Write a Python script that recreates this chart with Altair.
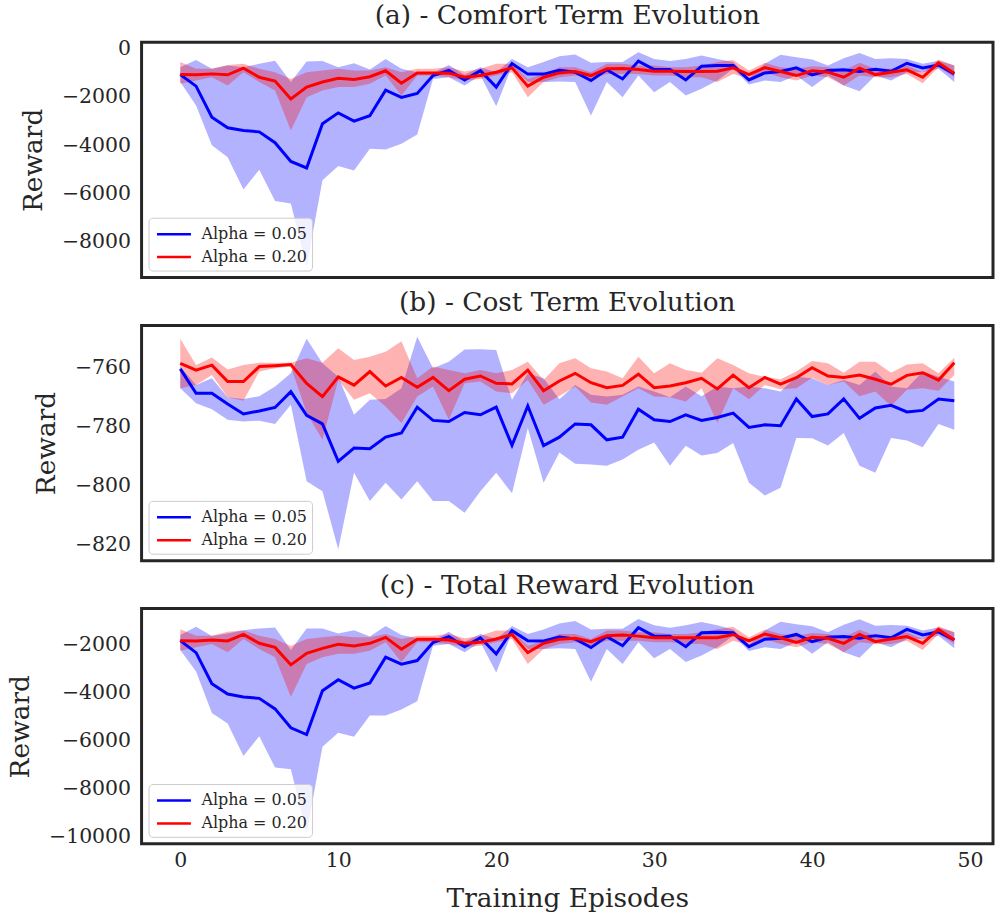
import altair as alt
import pandas as pd

episodes = list(range(50))
series_names = ["Alpha = 0.05", "Alpha = 0.20"]
series_colors = ["#0000ff", "#ff0000"]

# (a) Comfort term
comfort_05_mean = [-1070,-1550,-2840,-3280,-3390,-3450,-3900,-4680,-4950,-3110,-2660,-3000,-2780,-1720,-2020,-1850,-1110,-890,-1290,-910,-1590,-610,-1050,-1050,-890,-970,-1320,-870,-1250,-510,-860,-860,-1290,-720,-690,-690,-1290,-1000,-940,-790,-1080,-900,-870,-940,-850,-930,-600,-790,-670,-1040]
comfort_05_hi = [-760,-460,-830,-690,-760,-620,-490,-1380,-530,-510,-760,-600,-860,-420,-830,-970,-1000,-670,-1080,-760,-970,-420,-760,-550,-310,-240,-580,-550,-550,-140,-420,-510,-420,-280,-420,-550,-1220,-620,-250,-350,-440,-690,-390,-170,-420,-390,-420,-620,-490,-690]
comfort_05_lo = [-1380,-2350,-4010,-4500,-5840,-5020,-6320,-6430,-9050,-5460,-4870,-5050,-4150,-4180,-3940,-3560,-1250,-1180,-1520,-1110,-2380,-720,-1380,-1380,-1360,-1380,-2770,-1380,-2010,-1110,-1800,-1380,-1940,-1660,-1320,-830,-1480,-1320,-1380,-1110,-1590,-1110,-1520,-1760,-1110,-1320,-970,-970,-830,-1380]
comfort_20_mean = [-1070,-1080,-1040,-1080,-800,-1180,-1340,-2080,-1590,-1380,-1220,-1270,-1160,-910,-1430,-1000,-1000,-1010,-1180,-1110,-970,-790,-1550,-1180,-1000,-940,-1110,-830,-820,-860,-930,-930,-940,-940,-930,-790,-1070,-780,-940,-1110,-910,-970,-1180,-800,-1070,-970,-870,-1180,-580,-1010]
comfort_20_hi = [-550,-830,-830,-670,-620,-830,-970,-1250,-970,-900,-830,-900,-900,-760,-970,-830,-830,-760,-940,-830,-620,-620,-1250,-1040,-760,-760,-970,-620,-620,-690,-690,-760,-760,-690,-550,-460,-900,-580,-760,-830,-720,-760,-900,-580,-830,-830,-690,-970,-440,-690]
comfort_20_lo = [-1450,-1320,-1180,-1520,-970,-1380,-1730,-3390,-2010,-1730,-1590,-1590,-1450,-1110,-1940,-1110,-1110,-1180,-1320,-1250,-1110,-970,-2010,-1380,-1180,-1110,-1250,-1040,-1040,-1040,-1110,-1110,-1180,-1180,-1380,-1040,-1220,-970,-1180,-1320,-1110,-1180,-1520,-1110,-1180,-1180,-1040,-1430,-760,-1180]

# (b) Cost term
cost_05_mean = [-760.4,-768.7,-768.7,-772.3,-775.7,-774.7,-773.5,-768.1,-776.2,-779.1,-791.8,-787.3,-787.5,-783.6,-782.2,-773.4,-777.9,-778.3,-775.2,-776.0,-773.4,-786.4,-773.0,-786.5,-783.6,-779.1,-779.4,-784.5,-783.6,-774.1,-777.7,-778.3,-776.0,-777.9,-776.9,-775.4,-780.3,-779.4,-779.7,-770.6,-776.6,-775.7,-770.6,-777.2,-773.7,-772.8,-775.0,-774.5,-770.6,-771.2]
cost_05_hi = [-759.6,-765.9,-763.6,-770.0,-770.6,-769.7,-766.4,-761.9,-750.1,-758.5,-763.1,-776.0,-770.9,-770.6,-767.0,-749.5,-760.2,-758.0,-753.8,-753.7,-754.0,-770.9,-761.9,-763.6,-770.7,-765.9,-769.2,-769.8,-769.2,-766.4,-768.1,-770.0,-766.4,-769.7,-766.4,-767.0,-766.4,-767.0,-768.1,-763.1,-763.6,-765.9,-764.2,-765.9,-761.3,-766.4,-767.0,-761.3,-763.1,-764.7]
cost_05_lo = [-767.0,-772.1,-774.1,-777.7,-778.3,-778.0,-779.1,-772.6,-798.6,-802.0,-821.7,-795.7,-805.3,-799.1,-804.8,-798.6,-805.3,-805.3,-809.3,-802.0,-795.7,-802.7,-780.5,-799.1,-788.8,-792.6,-792.9,-793.3,-791.2,-787.9,-785.4,-793.3,-786.5,-789.8,-789.0,-785.6,-799.1,-803.4,-800.8,-783.9,-784.0,-786.4,-782.2,-793.3,-795.7,-783.9,-784.7,-787.0,-779.1,-781.1]
cost_20_mean = [-758.5,-760.8,-759.1,-764.7,-764.7,-759.6,-759.3,-758.9,-765.3,-769.8,-763.1,-765.9,-761.3,-766.2,-763.3,-766.6,-763.3,-767.8,-763.9,-762.8,-765.3,-765.5,-760.8,-767.8,-764.5,-761.9,-765.1,-766.8,-766.0,-762.2,-766.8,-766.2,-765.1,-763.6,-767.2,-762.5,-766.8,-763.3,-765.6,-763.4,-760.0,-762.8,-763.3,-762.5,-763.9,-765.6,-762.6,-761.7,-764.2,-758.3]
cost_20_hi = [-750.1,-759.1,-756.5,-760.6,-759.1,-758.3,-758.3,-758.3,-756.8,-758.3,-753.4,-757.4,-756.3,-754.6,-751.0,-763.6,-759.6,-760.8,-761.9,-760.8,-761.9,-760.8,-758.0,-764.2,-758.5,-756.8,-760.2,-761.3,-763.6,-756.3,-761.9,-758.5,-760.8,-761.7,-756.8,-759.1,-761.9,-763.1,-763.9,-761.3,-757.7,-758.5,-761.7,-758.0,-758.0,-761.7,-758.9,-758.5,-761.9,-756.6]
cost_20_lo = [-767.0,-765.9,-762.5,-770.0,-771.2,-761.3,-760.2,-759.6,-775.4,-784.5,-764.2,-770.9,-768.7,-773.2,-778.8,-769.8,-766.4,-777.7,-765.3,-764.7,-768.1,-768.7,-764.2,-772.6,-769.6,-766.4,-771.8,-772.6,-769.8,-767.0,-769.8,-770.0,-771.5,-767.0,-778.8,-767.0,-770.7,-765.9,-767.3,-767.0,-763.4,-765.9,-764.7,-769.7,-768.1,-773.0,-767.5,-767.0,-767.8,-762.5]

# (c) Total reward
total_05_mean = [-1820,-2320,-3620,-4050,-4170,-4230,-4670,-5460,-5740,-3910,-3450,-3800,-3590,-2510,-2800,-2650,-1900,-1650,-2070,-1700,-2370,-1400,-1820,-1830,-1670,-1750,-2110,-1650,-2030,-1280,-1630,-1630,-2070,-1490,-1470,-1490,-2070,-1760,-1720,-1560,-1860,-1680,-1650,-1720,-1610,-1700,-1350,-1580,-1450,-1790]
total_05_hi = [-1580,-1240,-1630,-1520,-1380,-1310,-1270,-2210,-1310,-1310,-1520,-1380,-1650,-1210,-1580,-1720,-1820,-1450,-1860,-1540,-1750,-1210,-1540,-1350,-1100,-1000,-1350,-1320,-1320,-910,-1180,-1280,-1180,-1040,-1180,-1350,-1990,-1400,-1030,-1130,-1220,-1470,-1160,-930,-1200,-1170,-1200,-1400,-1270,-1470]
total_05_lo = [-2210,-3110,-4840,-5280,-6640,-5810,-7120,-7190,-9860,-6250,-5670,-5830,-4950,-4950,-4700,-4350,-2030,-1960,-2300,-1890,-3150,-1480,-2170,-2170,-2140,-2170,-3540,-2170,-2790,-1890,-2550,-2170,-2710,-2440,-2100,-1610,-2250,-2100,-2170,-1890,-2370,-1890,-2300,-2530,-1890,-2100,-1750,-1750,-1610,-2140]
total_20_mean = [-1820,-1830,-1790,-1830,-1560,-1930,-2100,-2830,-2350,-2140,-1970,-2040,-1930,-1680,-2180,-1760,-1760,-1790,-1930,-1890,-1750,-1560,-2320,-1930,-1760,-1720,-1860,-1610,-1580,-1630,-1700,-1700,-1700,-1700,-1700,-1560,-1830,-1540,-1700,-1890,-1680,-1720,-1930,-1560,-1860,-1750,-1650,-1930,-1350,-1790]
total_20_hi = [-1340,-1610,-1610,-1450,-1400,-1610,-1750,-2040,-1750,-1680,-1610,-1680,-1680,-1540,-1750,-1610,-1610,-1540,-1720,-1610,-1400,-1400,-2030,-1820,-1540,-1540,-1750,-1400,-1400,-1470,-1470,-1540,-1540,-1470,-1340,-1240,-1680,-1360,-1540,-1610,-1500,-1540,-1680,-1360,-1610,-1610,-1470,-1750,-1220,-1470]
total_20_lo = [-2240,-2100,-1960,-2300,-1750,-2170,-2510,-4170,-2790,-2510,-2370,-2370,-2240,-1890,-2720,-1890,-1890,-1960,-2100,-2030,-1890,-1750,-2790,-2170,-1960,-1890,-2030,-1820,-1820,-1820,-1890,-1890,-1960,-1960,-2170,-1820,-2000,-1750,-1960,-2100,-1890,-1960,-2300,-1890,-1960,-1960,-1820,-2210,-1540,-1960]

panel_titles = ["(a) - Comfort Term Evolution", "(b) - Cost Term Evolution", "(c) - Total Reward Evolution"]
y_domains = [[-9502, 274], [-825.6, -745.6], [-10307, -478]]
y_ticks = [[0, -2000, -4000, -6000, -8000], [-760, -780, -800, -820], [-2000, -4000, -6000, -8000, -10000]]
x_ticks = [0, 10, 20, 30, 40, 50]
x_domain = [-2.45, 51.45]

FONT = "DejaVu Serif"
TEXT = "#262626"
W, H = 854, 236


def frame(m05, lo05, hi05, m20, lo20, hi20):
    rows = []
    for name, m, lo, hi in [(series_names[0], m05, lo05, hi05), (series_names[1], m20, lo20, hi20)]:
        for e, a, b, c in zip(episodes, m, lo, hi):
            rows.append({"episode": e, "series": name, "mean": a, "lo": b, "hi": c})
    return pd.DataFrame(rows)


data = [
    frame(comfort_05_mean, comfort_05_lo, comfort_05_hi, comfort_20_mean, comfort_20_lo, comfort_20_hi),
    frame(cost_05_mean, cost_05_lo, cost_05_hi, cost_20_mean, cost_20_lo, cost_20_hi),
    frame(total_05_mean, total_05_lo, total_05_hi, total_20_mean, total_20_lo, total_20_hi),
]

color_scale = alt.Scale(domain=series_names, range=series_colors)


def panel(i):
    df = data[i]
    last = i == 2
    if last:
        xaxis = alt.Axis(values=x_ticks, format="d", title="Training Episodes",
                         labelPadding=7, titlePadding=14)
    else:
        xaxis = None
    x = alt.X("episode:Q", scale=alt.Scale(domain=x_domain, nice=False, zero=False), axis=xaxis)
    yscale = alt.Scale(domain=y_domains[i], nice=False, zero=False)
    yaxis = alt.Axis(values=y_ticks[i], format="d", title="Reward", labelPadding=11, titlePadding=14)
    base = alt.Chart(df)
    areas = []
    for name, col in zip(series_names, series_colors):
        areas.append(
            base.transform_filter(alt.datum.series == name)
            .mark_area(color=col, opacity=0.3, clip=True)
            .encode(x=x, y=alt.Y("lo:Q", scale=yscale, axis=yaxis), y2="hi:Q")
        )
    line = base.mark_line(strokeWidth=3, clip=True).encode(
        x=x,
        y=alt.Y("mean:Q", scale=yscale, axis=yaxis),
        color=alt.Color("series:N", scale=color_scale, legend=alt.Legend(
            title=None, orient="bottom-left", offset=7, padding=5,
            fillColor="rgba(255,255,255,0.8)", strokeColor="#cccccc",
            cornerRadius=4, symbolType="M-0.8,0H2.6", symbolSize=400, symbolStrokeWidth=2.5,
            labelFont=FONT, labelFontSize=16, labelColor=TEXT, labelOffset=25, rowPadding=3,
        )),
    )
    return alt.layer(*areas, line).properties(
        width=W, height=H,
        title=alt.TitleParams(panel_titles[i], font=FONT, fontSize=26.5, fontWeight="normal",
                              color=TEXT, anchor="middle", offset=9),
    )


chart = alt.vconcat(panel(0), panel(1), panel(2), spacing=9).resolve_scale(
    y="independent", x="independent", color="independent"
).resolve_legend(color="independent").properties(
    padding={"left": 6, "top": 0, "right": 0, "bottom": 0},
    background="white",
).configure_axis(
    labelFont=FONT, titleFont=FONT, labelColor=TEXT, titleColor=TEXT,
    labelFontSize=20.5, titleFontSize=26.5, titleFontWeight="normal",
    grid=False, ticks=False, domain=False,
).configure_view(stroke=TEXT, strokeWidth=3)

chart.save("out.html", embed_options={"renderer": "svg", "actions": False})
